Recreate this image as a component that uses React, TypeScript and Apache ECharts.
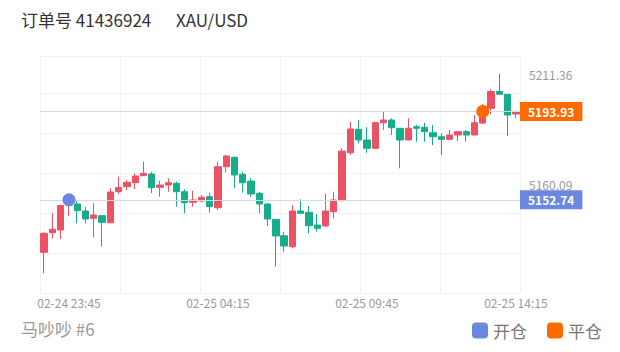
import React, { useEffect, useRef } from "react";
import * as echarts from "echarts";

const categories = [
  "02-24 23:00", "02-24 23:15", "02-24 23:30", "02-24 23:45",
  "02-25 00:00", "02-25 00:15", "02-25 00:30", "02-25 00:45",
  "02-25 01:00", "02-25 01:15", "02-25 01:30", "02-25 01:45",
  "02-25 02:00", "02-25 02:15", "02-25 02:30", "02-25 02:45",
  "02-25 03:00", "02-25 03:15", "02-25 03:30", "02-25 03:45",
  "02-25 04:00", "02-25 04:15", "02-25 04:30", "02-25 04:45",
  "02-25 05:00", "02-25 05:15", "02-25 05:30", "02-25 05:45",
  "02-25 07:00", "02-25 07:15", "02-25 07:30", "02-25 07:45",
  "02-25 08:00", "02-25 08:15", "02-25 08:30", "02-25 08:45",
  "02-25 09:00", "02-25 09:15", "02-25 09:30", "02-25 09:45",
  "02-25 10:00", "02-25 10:15", "02-25 10:30", "02-25 10:45",
  "02-25 11:00", "02-25 11:15", "02-25 11:30", "02-25 11:45",
  "02-25 12:00", "02-25 12:15", "02-25 12:30", "02-25 12:45",
  "02-25 13:00", "02-25 13:15", "02-25 13:30", "02-25 13:45",
  "02-25 14:00", "02-25 14:15",
];

// [open, close, low, high]
const ohlc: number[][] = [
  [5128.26, 5137.11, 5118.47, 5137.86],
  [5137.39, 5138.98, 5134.78, 5146.43],
  [5138.65, 5150.07, 5134.46, 5150.44],
  [5150.77, 5154.03, 5145.18, 5154.96],
  [5150.77, 5147.65, 5141.77, 5152.31],
  [5147.51, 5143.78, 5141.77, 5149.37],
  [5144.10, 5145.64, 5135.15, 5151.09],
  [5145.32, 5142.24, 5130.96, 5145.64],
  [5142.05, 5156.36, 5141.90, 5158.09],
  [5156.50, 5158.46, 5155.43, 5163.59],
  [5158.83, 5160.88, 5157.29, 5161.95],
  [5160.70, 5163.82, 5157.76, 5165.08],
  [5163.96, 5165.08, 5163.82, 5170.48],
  [5164.75, 5158.37, 5155.90, 5165.68],
  [5158.55, 5159.62, 5154.17, 5161.63],
  [5159.62, 5160.70, 5156.50, 5162.75],
  [5160.42, 5156.50, 5149.51, 5161.16],
  [5156.50, 5151.37, 5146.43, 5157.62],
  [5151.56, 5152.63, 5149.51, 5156.97],
  [5152.17, 5153.89, 5151.56, 5154.96],
  [5154.17, 5149.51, 5146.71, 5156.04],
  [5149.04, 5168.15, 5147.97, 5170.48],
  [5168.15, 5173.14, 5165.54, 5173.61],
  [5172.53, 5164.28, 5158.09, 5172.90],
  [5164.61, 5160.70, 5156.04, 5165.82],
  [5161.49, 5155.43, 5154.17, 5162.75],
  [5155.76, 5150.77, 5146.43, 5156.50],
  [5150.77, 5143.78, 5140.51, 5151.09],
  [5143.64, 5135.85, 5121.54, 5143.78],
  [5135.99, 5131.19, 5128.54, 5137.86],
  [5130.87, 5147.51, 5130.12, 5150.30],
  [5147.51, 5146.43, 5146.34, 5152.96],
  [5146.90, 5140.65, 5137.11, 5149.84],
  [5140.98, 5139.44, 5137.86, 5146.11],
  [5140.51, 5147.51, 5140.19, 5155.43],
  [5147.18, 5152.63, 5144.10, 5156.50],
  [5152.31, 5175.47, 5152.17, 5176.73],
  [5174.68, 5185.73, 5173.61, 5189.13],
  [5185.59, 5180.60, 5179.06, 5189.92],
  [5180.60, 5176.73, 5174.68, 5186.52],
  [5176.73, 5188.66, 5176.26, 5189.13],
  [5188.66, 5189.92, 5185.26, 5193.79],
  [5189.92, 5186.33, 5182.93, 5190.71],
  [5186.05, 5180.60, 5167.41, 5186.20],
  [5180.60, 5186.05, 5180.50, 5190.71],
  [5186.80, 5186.05, 5179.81, 5187.59],
  [5186.52, 5184.47, 5179.81, 5188.66],
  [5184.00, 5182.14, 5178.27, 5187.59],
  [5182.14, 5180.92, 5173.61, 5183.72],
  [5180.92, 5182.93, 5180.60, 5185.26],
  [5182.93, 5184.47, 5180.13, 5184.56],
  [5184.47, 5182.93, 5179.81, 5185.26],
  [5182.93, 5188.66, 5182.80, 5192.25],
  [5188.52, 5195.98, 5188.06, 5197.38],
  [5195.37, 5203.20, 5192.72, 5204.23],
  [5203.20, 5201.90, 5201.57, 5211.36],
  [5201.90, 5192.25, 5182.46, 5202.00],
  [5192.72, 5193.93, 5190.71, 5194.00],
];

const entryPrice = 5152.74;
const exitPrice = 5193.93;
const entryCategory = "02-24 23:45";
const exitCategory = "02-25 13:15";
const refHigh = 5211.36;
const refMid = 5160.09;
const yMin = 5109.29;
const yMax = 5219.75;
const yInterval = 18.644;
const xLabelIndices = [3, 21, 39, 57];

const FONT = '"Noto Sans CJK SC", "Noto Sans", sans-serif';
const UP = "#EB5264";
const DOWN = "#14AE8B";
const BLUE = "#6B87E0";
const ORANGE = "#FF6A00";

export default function App() {
  const ref = useRef<HTMLDivElement>(null);
  useEffect(() => {
    if (!ref.current) return;
    const chart = echarts.init(ref.current, undefined, { renderer: "svg" });
    const grayLabel = {
      show: true,
      position: "end" as const,
      distance: 9,
      color: "#999",
      fontSize: 12,
      fontFamily: FONT,
      formatter: (p: any) => Number(p.value).toFixed(2),
    };
    const boxLabel = (bg: string) => ({
      show: true,
      position: "end" as const,
      distance: 0,
      color: "#fff",
      fontSize: 12,
      fontWeight: "bold" as const,
      fontFamily: FONT,
      backgroundColor: bg,
      padding: [4, 8, 3, 8],
      formatter: (p: any) => Number(p.value).toFixed(2),
    });
    chart.setOption({
      animation: false,
      textStyle: { fontFamily: FONT },
      grid: { left: 40, right: 100, top: 56, bottom: 59 },
      legend: {
        data: ["开仓", "平仓"],
        right: 18,
        top: 322,
        padding: 0,
        itemWidth: 16,
        itemHeight: 16,
        itemGap: 20,
        icon: "roundRect",
        itemStyle: { opacity: 1 },
        textStyle: { fontSize: 17, color: "#777", fontFamily: FONT },
        selectedMode: false,
      },
      xAxis: [
        {
          type: "category",
          data: categories,
          boundaryGap: true,
          axisLine: { show: false },
          axisTick: { show: false },
          splitLine: { show: false },
          axisLabel: {
            color: "#999",
            fontSize: 12,
            margin: 3,
            fontFamily: FONT,
            interval: (i: number) => xLabelIndices.includes(i),
          },
        },
        {
          type: "value",
          min: 0,
          max: 6,
          interval: 1,
          axisLine: { show: false },
          axisTick: { show: false },
          axisLabel: { show: false },
          splitLine: { show: true, lineStyle: { color: "#f2f2f2", width: 1 } },
        },
      ],
      yAxis: {
        type: "value",
        position: "right",
        min: yMin,
        max: yMax,
        interval: yInterval,
        axisLine: { show: false },
        axisTick: { show: false },
        axisLabel: { show: false },
        splitLine: { show: true, lineStyle: { color: "#f2f2f2", width: 1 } },
      },
      series: [
        {
          type: "candlestick",
          data: ohlc,
          barWidth: "82%",
          itemStyle: {
            color: UP,
            color0: DOWN,
            borderColor: UP,
            borderColor0: DOWN,
            borderWidth: 1,
          },
          markLine: {
            silent: true,
            symbol: ["none", "none"],
            animation: false,
            data: [
              { yAxis: refHigh, lineStyle: { color: "rgba(0,0,0,0)", width: 0 }, label: grayLabel },
              { yAxis: refMid, lineStyle: { color: "rgba(0,0,0,0)", width: 0 }, label: grayLabel },
              {
                yAxis: exitPrice,
                lineStyle: { color: "#d9d9d9", width: 1, type: "solid" },
                label: boxLabel(ORANGE),
              },
              {
                yAxis: entryPrice,
                lineStyle: { color: "#d9d9d9", width: 1, type: "solid" },
                label: boxLabel(BLUE),
              },
            ],
          },
        },
        {
          name: "开仓",
          type: "scatter",
          symbolSize: 13,
          z: 5,
          itemStyle: { color: BLUE, opacity: 1 },
          data: [[entryCategory, entryPrice]],
        },
        {
          name: "平仓",
          type: "scatter",
          symbolSize: 13,
          z: 5,
          itemStyle: { color: ORANGE, opacity: 1 },
          data: [[exitCategory, exitPrice]],
        },
      ],
      graphic: [
        {
          type: "text",
          left: 21,
          top: 11,
          style: { text: "订单号 41436924", fontSize: 17, fill: "#333", fontFamily: FONT },
        },
        {
          type: "text",
          left: 176,
          top: 11,
          style: { text: "XAU/USD", fontSize: 17, fill: "#333", fontFamily: FONT },
        },
        {
          type: "text",
          left: 21,
          top: 320,
          style: { text: "马吵吵 #6", fontSize: 17, fill: "#999", fontFamily: FONT },
        },
      ],
    });
    return () => chart.dispose();
  }, []);
  return (
    <div
      ref={ref}
      style={{ position: "fixed", left: 0, top: 0, width: 620, height: 352, background: "#fff" }}
    />
  );
}
